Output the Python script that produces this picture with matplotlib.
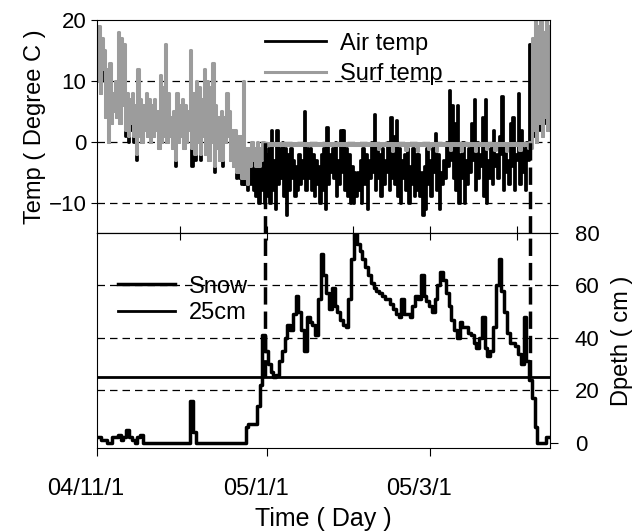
import numpy as np
import matplotlib
matplotlib.use('Agg')
import matplotlib.pyplot as plt
from matplotlib.transforms import ScaledTranslation

plt.rcParams['font.family'] = ['Liberation Sans', 'DejaVu Sans']

# daily values, day 0 = 2004-11-01
air_max = [14, 12, 10, 8, 9, 5, 7, 13, 12, 11,
           5, 4, 5, 3, 8, 4, 3, 5, 4, 3,
           4, 3, 7, 6, 11, 5, 2, 3, 5, 3,
           4, 3, 2, 10, 5, 6, 5, 4, 8, 6,
           5, 8, 3, 1, 2, 1, 4, 2, 0, -1,
           -2, -2, 5, -3, -3, -2, -3, -2, -3, -2,
           -2, -1, 2, -3, 2, -1, 0, -1, -2, -1,
           -3, -4, -2, -3, 5, -1, -1, -2, -3, -4,
           -2, -1, 2.5, -2, -1, 0, -3, 2, 2, -1,
           -2, -4, -5, -5, -3, -1, -2, -3, 0, 4.5,
           -1, -2, -1, -3, 0, 4, 1, 3.5, -1, -3,
           -2, -1, -4, -1, -2, -2, -5, -4, -1, -3,
           -1, 1.5, -2, -5, -3, 0, 8.5, 6, 3, 6,
           -2, 0, -3, -1, 3, 7, 0, -2, 4, 7,
           -3, -1, 2, -2, 1, 7.5, -1, -3, 3, 4,
           -2, 8, 2, -1, 0, 16, 4, 10, 6, 8,
           9, 7, 10, 8]
air_min = [10, 8, 12, 4, 0, 3, 5, 4, 3, 6,
           1, 0, 2, 0, -3, 1, 0, 2, 1, 0,
           1, 2, -1, 0, 1, 0, 1, -1, -4, 0,
           1, -1, 0, 2, -4, -3, 0, -3, 1, -2,
           -3, 0, -5, -1, -3, -4, 0, 1, -3, -4,
           -6, -6, -7, -7, -8, -7, -8, -9, -10, -8,
           -10, -9, -10, -8, -11, -7, -6, -9, -12, -8,
           -6, -9, -8, -7, -6, -8, -6, -8, -9, -7,
           -10, -8, -11, -7, -5, -6, -9, -7, -5, -8,
           -9, -10, -10, -9, -8, -10, -7, -11, -6, -5,
           -8, -6, -9, -7, -5, -8, -6, -7, -9, -10,
           -6, -8, -10, -7, -9, -8, -9, -12, -11, -7,
           -9, -5, -8, -11, -7, -6, -4, -3, -6, -8,
           -10, -6, -10, -7, -5, -3, -8, -6, -4, -9,
           -10, -6, -7, -4, -6, -2, -8, -5, -7, -4,
           -8, -3, -7, -5, -8, -3, 0, 1, 0, 2,
           1, 3, 2, 4]
surf_max = [19, 17, 15, 12, 13, 8, 10, 18, 17, 16,
            8, 7, 8, 6, 12, 7, 6, 8, 7, 6,
            7, 5, 11, 9, 16, 8, 4, 5, 8, 6,
            7, 6, 5, 15, 8, 10, 9, 7, 12, 10,
            9, 13, 6, 4, 5, 4, 8, 5, 2, 2,
            1, 1, 10, -1, -1, 0, -1, 0, -1, 0,
            -0.2, -0.2, -0.2, -0.2, -0.2, -0.2, -0.2, -0.2, -0.2, -0.2,
            -0.2, -0.2, -0.2, -0.2, -0.2, -0.2, -0.2, -0.2, -0.2, -0.2,
            -0.2, -0.2, -0.2, -0.2, -0.2, -0.2, -0.2, -0.2, -0.2, -0.2,
            -0.2, -0.2, -0.2, -0.2, -0.2, -0.2, -0.2, -0.2, -0.2, -0.2,
            -0.2, -0.2, -0.2, -0.2, -0.2, -0.2, -0.2, -0.2, -0.2, -0.2,
            -0.2, -0.2, -0.2, -0.2, -0.2, -0.2, -0.2, -0.2, -0.2, -0.2,
            -0.2, -0.2, -0.2, -0.2, -0.2, -0.2, -0.2, -0.2, -0.2, -0.2,
            -0.2, -0.2, -0.2, -0.2, -0.2, -0.2, -0.2, -0.2, -0.2, -0.2,
            -0.2, -0.2, -0.2, -0.2, -0.2, -0.2, -0.2, -0.2, -0.2, -0.2,
            -0.2, -0.2, -0.2, -0.2, -0.2, 0, 17, 20, 19, 20,
            18, 20, 19, 20]
surf_min = [10, 8, 12, 4, 0, 3, 5, 4, 3, 6,
            2, 1, 3, 1, -2, 1, 0, 2, 1, 0,
            1, 2, -1, 0, 1, 0, 1, -1, -3, 0,
            1, -1, 0, 2, -1, -2, 0, -2, 1, -2,
            -3, 0, -4, -1, -3, -3, 0, 1, -3, -4,
            -5, -5, -6, -6, -7, -4, -3, -4, -4, -3,
            -0.6, -0.6, -0.6, -0.6, -0.6, -0.6, -0.6, -0.6, -0.6, -0.6,
            -0.6, -0.6, -0.6, -0.6, -0.6, -0.6, -0.6, -0.6, -0.6, -0.6,
            -0.6, -0.6, -0.6, -0.6, -0.6, -0.6, -0.6, -0.6, -0.6, -0.6,
            -0.6, -0.6, -0.6, -0.6, -0.6, -0.6, -0.6, -0.6, -0.6, -0.6,
            -0.6, -1.2, -0.6, -0.6, -0.6, -0.6, -1.5, -0.6, -0.6, -0.6,
            -0.6, -1.4, -0.6, -0.6, -0.6, -1.6, -0.6, -0.6, -0.6, -1.2,
            -0.6, -0.6, -1.5, -0.6, -0.6, -0.6, -0.6, -1.3, -0.6, -0.6,
            -0.6, -1.5, -0.6, -0.6, -0.6, -0.6, -1.6, -0.6, -0.6, -0.6,
            -1.2, -0.6, -0.6, -1.4, -0.6, -0.6, -0.6, -1.5, -0.6, -0.6,
            -0.6, -0.6, -1.3, -0.6, -0.6, -1, -1, 2, 0, 3,
            1, 4, 2, 5]
snow = [2, 2, 1, 1, 0, 0, 2, 2, 3, 1,
        2, 5, 2, 1, 0, 2, 3, 0, 0, 0,
        0, 0, 0, 0, 0, 0, 0, 0, 0, 0,
        0, 0, 0, 0, 16, 4, 0, 0, 0, 0,
        0, 0, 0, 0, 0, 0, 0, 0, 0, 0,
        0, 0, 0, 0, 6, 7, 7, 7, 14, 22,
        41, 35, 30, 27, 25, 26, 31, 35, 40, 45,
        43, 49, 56, 50, 43, 35, 48, 46, 45, 41,
        55, 72, 64, 57, 51, 59, 52, 50, 47, 45,
        44, 55, 70, 80, 76, 73, 70, 67, 64, 61,
        59, 58, 57, 56, 55, 55, 53, 51, 49, 48,
        55, 49, 49, 48, 52, 56, 55, 64, 56, 54,
        52, 50, 55, 60, 65, 62, 57, 52, 47, 43,
        40, 46, 44, 44, 42, 41, 38, 36, 40, 48,
        36, 33, 35, 44, 60, 70, 58, 50, 42, 38,
        38, 37, 34, 30, 48, 31, 24, 17, 6, 0,
        0, 0, 2, 2]
snow_ref = 25
season_marks = [60.5, 155.8]
month_days = [30, 61, 92, 120, 151]
label_days = [0, 61, 120]
label_text = ['04/11/1', '05/1/1', '05/3/1']


def diurnal(mn, mx):
    d = np.arange(len(mn))
    x = np.column_stack([d, d + 0.5]).ravel()
    y = np.column_stack([mn, mx]).ravel()
    return x, y


fig = plt.figure(figsize=(6.44, 5.32), dpi=100)
ax1 = fig.add_axes([0.1506, 0.562, 0.7034, 0.4004])
ax2 = fig.add_axes([0.1506, 0.158, 0.7034, 0.404])

dash = (0, (6, 4))

# temperature panel
x, y = diurnal(air_min, air_max)
ax1.plot(x, y, color='black', lw=2, drawstyle='steps-post', label='Air temp')
x, y = diurnal(surf_min, surf_max)
ax1.plot(x, y, color='#9c9c9c', lw=2.2, drawstyle='steps-post', label='Surf temp')
for v in [10, 0, -10]:
    ax1.axhline(v, color='black', lw=0.9, ls=dash, zorder=0)
for d in season_marks:
    ax1.axvline(d, ymin=0, ymax=15 / 35, color='black', lw=2.5, ls=(0, (5, 2)))
ax1.set_xlim(0, 163)
ax1.set_ylim(-15, 20)
ax1.set_yticks([20, 10, 0, -10])
ax1.set_xticks(month_days)
ax1.tick_params(axis='x', direction='in', length=5, labelbottom=False)
ax1.tick_params(axis='y', direction='out', length=4, labelsize=16)
ax1.set_ylabel('Temp ( Degree C )', fontsize=17, labelpad=2)
ax1.legend(loc='upper center', bbox_to_anchor=(0.567, 1.04), frameon=False,
           fontsize=17, handlelength=2.6, handletextpad=0.6, labelspacing=0.35)

# snow depth panel
ax2.plot(np.arange(len(snow)), snow, color='black', lw=2.5, drawstyle='steps-mid', label='Snow')
ax2.axhline(snow_ref, color='black', lw=2, label='25cm')
for v in [60, 40, 20]:
    ax2.axhline(v, color='black', lw=0.9, ls=dash, zorder=0)
for d in season_marks:
    ax2.axvline(d, ymin=(snow_ref + 2) / 82, ymax=1, color='black', lw=2.5, ls=(0, (5, 2)))
ax2.set_xlim(0, 163)
ax2.set_ylim(-2, 80)
ax2.yaxis.tick_right()
ax2.yaxis.set_label_position('right')
ax2.set_yticks([0, 20, 40, 60, 80])
ax2.set_xticks(label_days)
ax2.set_xticklabels(label_text)
ax2.tick_params(axis='x', direction='out', length=6, labelsize=17, pad=16)
ax2.tick_params(axis='y', direction='out', length=6, labelsize=16, pad=12)
ax2.set_ylabel('Dpeth ( cm )', fontsize=17, labelpad=8)
ax2.set_xlabel('Time ( Day )', fontsize=18, labelpad=5)
shift = ScaledTranslation(-0.11, 0, fig.dpi_scale_trans)
for lbl in ax2.get_xticklabels():
    lbl.set_transform(lbl.get_transform() + shift)
top = ax2.secondary_xaxis('top')
top.set_xticks(month_days)
top.tick_params(direction='in', length=5, labeltop=False)
ax2.legend(loc='upper left', bbox_to_anchor=(0.0, 0.9), frameon=False,
           fontsize=17, handlelength=2.4, handletextpad=0.6, labelspacing=0.2)

fig.savefig('out.png', dpi=100)
